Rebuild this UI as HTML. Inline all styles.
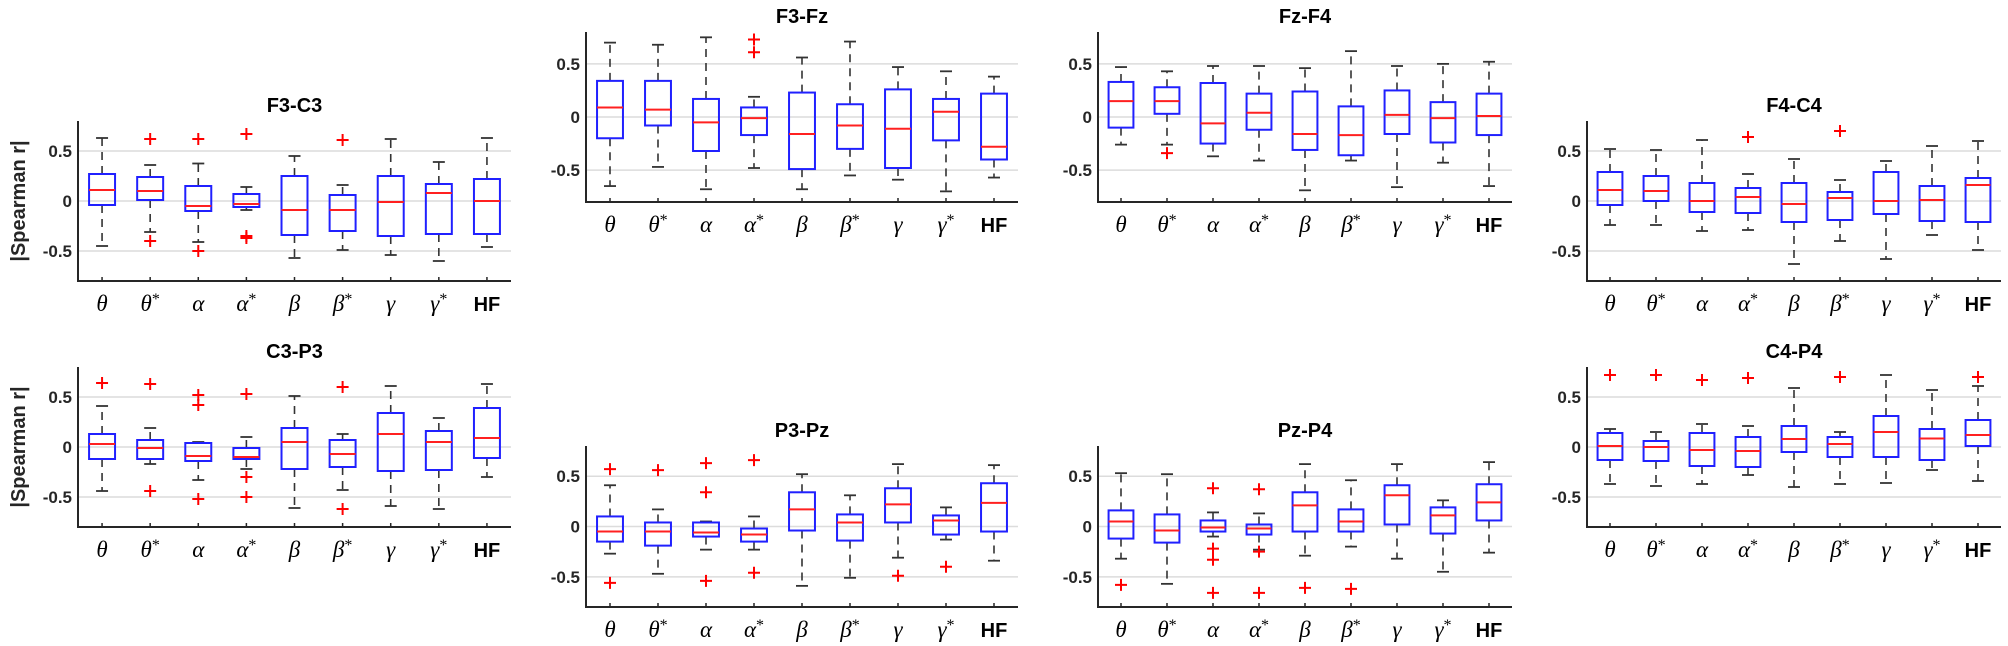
<!DOCTYPE html>
<html><head><meta charset="utf-8">
<style>
html,body{margin:0;padding:0;background:#fff;}
svg{display:block;}
</style></head>
<body>
<svg id="fig" width="2008" height="646" viewBox="0 0 2008 646" xmlns="http://www.w3.org/2000/svg"></svg>
<script>
const categories = ["θ","θ*","α","α*","β","β*","γ","γ*","HF"];
const yTicks = [-0.5, 0, 0.5];
const yTickLabels = ["-0.5","0","0.5"];

// F3-C3
const f3c3Lo = [-0.45,-0.31,-0.41,-0.09,-0.57,-0.49,-0.54,-0.60,-0.46];
const f3c3Q1 = [-0.04,0.01,-0.10,-0.06,-0.34,-0.30,-0.35,-0.33,-0.33];
const f3c3Med = [0.11,0.10,-0.05,-0.03,-0.09,-0.09,-0.01,0.08,0.0];
const f3c3Q3 = [0.27,0.24,0.15,0.07,0.25,0.06,0.25,0.17,0.22];
const f3c3Hi = [0.63,0.36,0.375,0.14,0.45,0.16,0.62,0.39,0.63];
const f3c3Out = [[],[0.62,-0.40],[0.62,-0.50],[0.67,-0.35,-0.37],[],[0.61],[],[],[]];
// F3-Fz
const f3fzLo = [-0.65,-0.47,-0.68,-0.48,-0.68,-0.55,-0.59,-0.70,-0.57];
const f3fzQ1 = [-0.20,-0.08,-0.32,-0.17,-0.49,-0.30,-0.48,-0.22,-0.40];
const f3fzMed = [0.09,0.07,-0.05,-0.01,-0.16,-0.08,-0.11,0.05,-0.28];
const f3fzQ3 = [0.34,0.34,0.17,0.09,0.23,0.12,0.26,0.17,0.22];
const f3fzHi = [0.70,0.68,0.75,0.19,0.56,0.71,0.47,0.43,0.38];
const f3fzOut = [[],[],[],[0.73,0.61],[],[],[],[],[]];
// Fz-F4
const fzf4Lo = [-0.26,-0.26,-0.37,-0.41,-0.69,-0.41,-0.66,-0.43,-0.65];
const fzf4Q1 = [-0.10,0.03,-0.25,-0.12,-0.31,-0.36,-0.16,-0.24,-0.17];
const fzf4Med = [0.15,0.15,-0.06,0.04,-0.16,-0.17,0.02,-0.01,0.01];
const fzf4Q3 = [0.33,0.28,0.32,0.22,0.24,0.10,0.25,0.14,0.22];
const fzf4Hi = [0.47,0.43,0.48,0.48,0.46,0.62,0.48,0.50,0.52];
const fzf4Out = [[],[-0.34],[],[],[],[],[],[],[]];
// F4-C4
const f4c4Lo = [-0.24,-0.24,-0.30,-0.29,-0.63,-0.40,-0.58,-0.34,-0.49];
const f4c4Q1 = [-0.04,0.0,-0.11,-0.12,-0.21,-0.19,-0.13,-0.20,-0.21];
const f4c4Med = [0.11,0.10,0.0,0.04,-0.03,0.03,0.0,0.01,0.16];
const f4c4Q3 = [0.29,0.25,0.18,0.13,0.18,0.09,0.29,0.15,0.23];
const f4c4Hi = [0.52,0.51,0.61,0.27,0.42,0.21,0.40,0.55,0.60];
const f4c4Out = [[],[],[],[0.64],[],[0.70],[],[],[]];
// C3-P3
const c3p3Lo = [-0.44,-0.17,-0.33,-0.22,-0.61,-0.43,-0.59,-0.62,-0.30];
const c3p3Q1 = [-0.12,-0.12,-0.14,-0.12,-0.22,-0.20,-0.24,-0.23,-0.11];
const c3p3Med = [0.03,-0.01,-0.09,-0.10,0.05,-0.07,0.13,0.05,0.09];
const c3p3Q3 = [0.13,0.07,0.04,-0.01,0.19,0.07,0.34,0.16,0.39];
const c3p3Hi = [0.41,0.19,0.05,0.10,0.51,0.13,0.61,0.29,0.63];
const c3p3Out = [[0.64],[0.63,-0.44],[0.52,0.42,-0.52],[0.53,-0.30,-0.50],[],[0.60,-0.62],[],[],[]];
// P3-Pz
const p3pzLo = [-0.27,-0.47,-0.23,-0.23,-0.59,-0.51,-0.31,-0.13,-0.34];
const p3pzQ1 = [-0.15,-0.19,-0.10,-0.15,-0.04,-0.14,0.04,-0.08,-0.05];
const p3pzMed = [-0.05,-0.05,-0.06,-0.08,0.17,0.04,0.22,0.06,0.235];
const p3pzQ3 = [0.10,0.04,0.04,-0.02,0.34,0.12,0.38,0.11,0.43];
const p3pzHi = [0.41,0.17,0.05,0.10,0.52,0.31,0.62,0.19,0.61];
const p3pzOut = [[0.57,-0.56],[0.56],[0.63,0.34,-0.54],[0.66,-0.46],[],[],[-0.49],[-0.40],[]];
// Pz-P4
const pzp4Lo = [-0.32,-0.57,-0.10,-0.23,-0.29,-0.20,-0.32,-0.45,-0.26];
const pzp4Q1 = [-0.12,-0.16,-0.05,-0.08,-0.05,-0.05,0.02,-0.07,0.06];
const pzp4Med = [0.05,-0.04,-0.01,-0.02,0.21,0.05,0.31,0.11,0.24];
const pzp4Q3 = [0.16,0.12,0.06,0.02,0.34,0.17,0.41,0.19,0.42];
const pzp4Hi = [0.53,0.52,0.14,0.13,0.62,0.46,0.62,0.26,0.64];
const pzp4Out = [[-0.58],[],[0.38,-0.22,-0.33,-0.66],[0.37,-0.25,-0.66],[-0.61],[-0.62],[],[],[]];
// C4-P4
const c4p4Lo = [-0.37,-0.39,-0.37,-0.28,-0.40,-0.37,-0.36,-0.23,-0.34];
const c4p4Q1 = [-0.13,-0.14,-0.19,-0.20,-0.05,-0.10,-0.10,-0.13,0.01];
const c4p4Med = [0.01,0.0,-0.03,-0.04,0.08,0.03,0.15,0.085,0.12];
const c4p4Q3 = [0.14,0.06,0.14,0.10,0.21,0.10,0.31,0.18,0.27];
const c4p4Hi = [0.18,0.15,0.23,0.21,0.59,0.15,0.72,0.57,0.61];
const c4p4Out = [[0.72],[0.72],[0.67],[0.69],[],[0.70],[],[],[0.70]];

const panels = [
 {key:"f3-c3",title:"F3-C3",L:78,R:511,T:121,B:281,ylab:true,lo:f3c3Lo,q1:f3c3Q1,med:f3c3Med,q3:f3c3Q3,hi:f3c3Hi,out:f3c3Out},
 {key:"f3-fz",title:"F3-Fz",L:586,R:1018,T:32,B:202,ylab:false,lo:f3fzLo,q1:f3fzQ1,med:f3fzMed,q3:f3fzQ3,hi:f3fzHi,out:f3fzOut},
 {key:"fz-f4",title:"Fz-F4",L:1098,R:1512,T:32,B:202,ylab:false,lo:fzf4Lo,q1:fzf4Q1,med:fzf4Med,q3:fzf4Q3,hi:fzf4Hi,out:fzf4Out},
 {key:"f4-c4",title:"F4-C4",L:1587,R:2001,T:121,B:281,ylab:false,lo:f4c4Lo,q1:f4c4Q1,med:f4c4Med,q3:f4c4Q3,hi:f4c4Hi,out:f4c4Out},
 {key:"c3-p3",title:"C3-P3",L:78,R:511,T:367,B:527,ylab:true,lo:c3p3Lo,q1:c3p3Q1,med:c3p3Med,q3:c3p3Q3,hi:c3p3Hi,out:c3p3Out},
 {key:"p3-pz",title:"P3-Pz",L:586,R:1018,T:446,B:607,ylab:false,lo:p3pzLo,q1:p3pzQ1,med:p3pzMed,q3:p3pzQ3,hi:p3pzHi,out:p3pzOut},
 {key:"pz-p4",title:"Pz-P4",L:1098,R:1512,T:446,B:607,ylab:false,lo:pzp4Lo,q1:pzp4Q1,med:pzp4Med,q3:pzp4Q3,hi:pzp4Hi,out:pzp4Out},
 {key:"c4-p4",title:"C4-P4",L:1587,R:2001,T:367,B:527,ylab:false,lo:c4p4Lo,q1:c4p4Q1,med:c4p4Med,q3:c4p4Q3,hi:c4p4Hi,out:c4p4Out}
];

const NS = "http://www.w3.org/2000/svg";
const svg = document.getElementById("fig");
function mk(tag, attrs, parent){
  const e = document.createElementNS(NS, tag);
  for (const k in attrs) e.setAttribute(k, attrs[k]);
  (parent||svg).appendChild(e);
  return e;
}

panels.forEach(p => {
  const g = mk("g", {});
  
  
  const n = categories.length;
  const step = (p.R - p.L) / n;
  const xS = i => p.L + step * (i + 0.5);
  const yS = v => p.B - (v + 0.8) / 1.6 * (p.B - p.T);

  // gridlines + y tick labels
  yTicks.forEach((t, k) => {
    const gl = mk("line", {x1:p.L, x2:p.R, y1:yS(t), y2:yS(t), stroke:"#dcdcdc", "stroke-width":1.5}, g);
    
    
    const tl = mk("text", {x:p.L-6, y:yS(t)+6, "text-anchor":"end", "font-family":"Liberation Sans, sans-serif", "font-weight":"bold", "font-size":17, fill:"#262626"}, g);
    tl.textContent = yTickLabels[k];
    
    
  });

  // axes
  const ax = mk("path", {d:`M${p.L},${p.T} L${p.L},${p.B} L${p.R},${p.B}`, fill:"none", stroke:"#262626", "stroke-width":2}, g);
  
  

  // title
  const tt = mk("text", {x:(p.L+p.R)/2, y:p.T-9, "text-anchor":"middle", "font-family":"Liberation Sans, sans-serif", "font-weight":"bold", "font-size":20, fill:"#000"}, g);
  tt.textContent = p.title;
  
  

  if (p.ylab) {
    const cy = (p.T + p.B) / 2;
    const yl = mk("text", {x:0, y:0, transform:`translate(25,${cy}) rotate(-90)`, "text-anchor":"middle", "font-family":"Liberation Sans, sans-serif", "font-weight":"bold", "font-size":20, fill:"#262626"}, g);
    yl.textContent = "|Spearman r|";
    
    
  }

  const bw = step * 0.54;
  categories.forEach((c, i) => {
    const x = xS(i);
    // x tick
    const tk = mk("line", {x1:x, x2:x, y1:p.B, y2:p.B-4, stroke:"#262626", "stroke-width":1.5}, g);
    
    
    // label
    let lab;
    if (c === "HF") {
      lab = mk("text", {x:x, y:p.B+30, "text-anchor":"middle", "font-family":"Liberation Sans, sans-serif", "font-weight":"bold", "font-size":20, fill:"#000"}, g);
      lab.textContent = c;
    } else {
      lab = mk("text", {x:x, y:p.B+30, "text-anchor":"middle", "font-family":"Liberation Serif, serif", "font-style":"italic", "font-size":23, fill:"#000"}, g);
      const base = mk("tspan", {}, lab); base.textContent = c.replace("*","");
      if (c.indexOf("*") >= 0) { const st = mk("tspan", {dy:-7, "font-size":16, "font-style":"normal"}, lab); st.textContent = "*"; }
    }
    
    

    const bg = mk("g", {}, g);
    
    
    // whiskers
    const w1 = mk("line", {x1:x, x2:x, y1:yS(p.q3[i]), y2:yS(p.hi[i]), stroke:"#333", "stroke-width":1.6, "stroke-dasharray":"8,6"}, bg);
    
    
    const w2 = mk("line", {x1:x, x2:x, y1:yS(p.q1[i]), y2:yS(p.lo[i]), stroke:"#333", "stroke-width":1.6, "stroke-dasharray":"8,6"}, bg);
    
    
    const c1 = mk("line", {x1:x-6, x2:x+6, y1:yS(p.hi[i]), y2:yS(p.hi[i]), stroke:"#333", "stroke-width":1.8}, bg);
    
    
    const c2 = mk("line", {x1:x-6, x2:x+6, y1:yS(p.lo[i]), y2:yS(p.lo[i]), stroke:"#333", "stroke-width":1.8}, bg);
    
    
    // box
    const rc = mk("rect", {x:x-bw/2, y:yS(p.q3[i]), width:bw, height:yS(p.q1[i])-yS(p.q3[i]), fill:"none", stroke:"#2020ff", "stroke-width":2}, bg);
    
    
    const md = mk("line", {x1:x-bw/2, x2:x+bw/2, y1:yS(p.med[i]), y2:yS(p.med[i]), stroke:"#ff2020", "stroke-width":2}, bg);
    
    
    p.out[i].forEach(v => {
      const o = mk("path", {d:`M${x-6},${yS(v)} h12 M${x},${yS(v)-6} v12`, stroke:"#ff0000", "stroke-width":2}, bg);
      
      
    });
  });
});
</script>
</body></html>
